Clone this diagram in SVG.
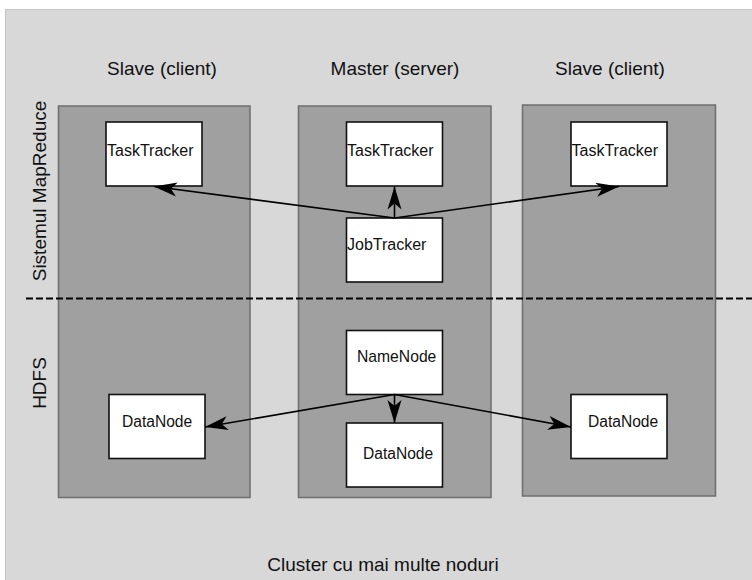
<svg xmlns="http://www.w3.org/2000/svg" width="752" height="580" viewBox="0 0 752 580">
  <style>
    .lbl { font-family: "Liberation Sans", Arial, sans-serif; fill: #111; }
    .head { font-size: 19px; text-anchor: middle; }
    .node-text { font-size: 16px; }
    .col { fill: #a0a0a0; stroke: #6e6e6e; stroke-width: 1.5; }
    .box { fill: #ffffff; stroke: #111; stroke-width: 1.6; }
    .conn { fill: none; stroke: #000; stroke-width: 1.6; marker-end: url(#arrow); }
  </style>
  <defs>
    <marker id="arrow" markerUnits="userSpaceOnUse" markerWidth="26" markerHeight="16" viewBox="-24 -8 26 16" refX="0" refY="0" orient="auto">
      <path d="M0,0 L-23,-7 L-17,0 L-23,7 Z" fill="#000"/>
    </marker>
  </defs>

  <!-- cluster background -->
  <rect x="0" y="0" width="752" height="580" fill="#ffffff"/>
  <rect x="5.5" y="9.5" width="752" height="580" fill="#d8d8d8" stroke="#c4c4c4" stroke-width="1"/>

  <!-- column headers -->
  <text class="lbl head" x="162" y="75">Slave (client)</text>
  <text class="lbl head" x="395" y="75">Master (server)</text>
  <text class="lbl head" x="610" y="75">Slave (client)</text>

  <!-- layer titles -->
  <text class="lbl head" transform="translate(46,191) rotate(-90)">Sistemul MapReduce</text>
  <text class="lbl head" transform="translate(46,383) rotate(-90)">HDFS</text>

  <!-- machines -->
  <g id="slave-left">
    <rect class="col" x="58.5" y="106" width="191.5" height="391.5"/>
  </g>
  <g id="master">
    <rect class="col" x="298.5" y="106" width="192.5" height="391.5"/>
  </g>
  <g id="slave-right">
    <rect class="col" x="522.5" y="105" width="193" height="391"/>
  </g>

  <!-- layer separator -->
  <line x1="26" y1="298.5" x2="752" y2="298.5" stroke="#000" stroke-width="2" stroke-dasharray="7 3"/>

  <!-- MapReduce layer -->
  <g id="tasktracker-left">
    <rect class="box" x="106" y="122" width="96" height="64"/>
    <text class="lbl node-text" x="107" y="156">TaskTracker</text>
  </g>
  <g id="tasktracker-master">
    <rect class="box" x="346.5" y="122" width="96" height="64"/>
    <text class="lbl node-text" x="347" y="156">TaskTracker</text>
  </g>
  <g id="tasktracker-right">
    <rect class="box" x="571" y="122" width="96" height="64"/>
    <text class="lbl node-text" x="571.5" y="156">TaskTracker</text>
  </g>
  <g id="jobtracker">
    <rect class="box" x="346.5" y="218" width="96" height="64"/>
    <text class="lbl node-text" x="347" y="250">JobTracker</text>
  </g>

  <!-- HDFS layer -->
  <g id="namenode">
    <rect class="box" x="346.5" y="330.5" width="96" height="64"/>
    <text class="lbl node-text" x="357" y="361.5" style="font-size:15.7px">NameNode</text>
  </g>
  <g id="datanode-left">
    <rect class="box" x="109" y="394.5" width="96" height="64"/>
    <text class="lbl node-text" x="122" y="427" style="font-size:15.6px">DataNode</text>
  </g>
  <g id="datanode-master">
    <rect class="box" x="346.5" y="423" width="96" height="64"/>
    <text class="lbl node-text" x="363" y="459" style="font-size:15.6px">DataNode</text>
  </g>
  <g id="datanode-right">
    <rect class="box" x="571" y="394.5" width="96" height="64"/>
    <text class="lbl node-text" x="588" y="426.5" style="font-size:15.6px">DataNode</text>
  </g>

  <!-- connectors -->
  <g id="connectors">
    <line class="conn" x1="394.5" y1="218" x2="154" y2="186.5"/>
    <line class="conn" x1="394.5" y1="218" x2="394.5" y2="186.5"/>
    <line class="conn" x1="394.5" y1="218" x2="619" y2="186.5"/>
    <line class="conn" x1="394.5" y1="394.5" x2="205" y2="427"/>
    <line class="conn" x1="394.5" y1="394.5" x2="394.5" y2="423"/>
    <line class="conn" x1="394.5" y1="394.5" x2="571" y2="427"/>
  </g>

  <!-- caption -->
  <text class="lbl head" x="383" y="571">Cluster cu mai multe noduri</text>
</svg>
